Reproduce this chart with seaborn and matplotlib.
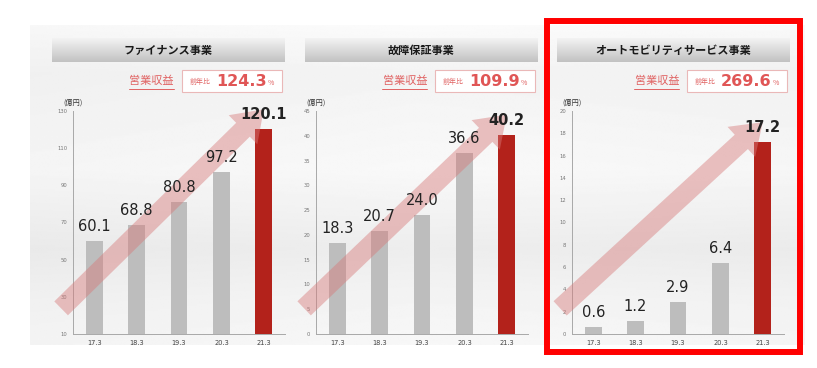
import numpy as np
import seaborn as sns
import matplotlib.pyplot as plt
from matplotlib import patches
from matplotlib.lines import Line2D

# data
fiscal_years = ["17.3", "18.3", "19.3", "20.3", "21.3"]
finance_revenue = [60.1, 68.8, 80.8, 97.2, 120.1]
warranty_revenue = [18.3, 20.7, 24.0, 36.6, 40.2]
automobility_revenue = [0.6, 1.2, 2.9, 6.4, 17.2]
segment_titles = ["ファイナンス事業", "故障保証事業", "オートモビリティサービス事業"]
yoy_growth = ["124.3", "109.9", "269.6"]
finance_ticks = [10, 30, 50, 70, 90, 110, 130]
warranty_ticks = [0, 5, 10, 15, 20, 25, 30, 35, 40, 45]
automobility_ticks = [0, 2, 4, 6, 8, 10, 12, 14, 16, 18, 20]

sns.set_style("white")
plt.rcParams["font.family"] = ["Noto Sans CJK JP", "DejaVu Sans"]

W, H = 817, 368
GRAY = "#bdbdbd"
DARK_RED = "#b3221b"
PINK_TEXT = "#e06262"


def px_box(left, top, width, height):
    # pixel box (from top-left) -> figure fraction
    return [left / W, 1 - (top + height) / H, width / W, height / H]


fig = plt.figure(figsize=(W / 100, H / 100), dpi=100)

# soft photo-like background
bg = fig.add_axes(px_box(30, 25, 775, 320), zorder=0)
rows = np.interp(np.linspace(0, 1, 200), [0, 0.15, 0.45, 0.7, 0.85, 1],
                 [0.985, 0.955, 0.975, 0.93, 0.955, 0.97])
cols = np.interp(np.linspace(0, 1, 300), [0, 0.5, 1], [0.985, 1.0, 0.99])
bg.imshow(np.outer(rows, cols), cmap="gray", vmin=0, vmax=1, aspect="auto")
bg.axis("off")

panels = [
    (finance_revenue, finance_ticks, 73, 52),
    (warranty_revenue, warranty_ticks, 316, 305),
    (automobility_revenue, automobility_ticks, 572, 557),
]

for i, (values, ticks, ax_left, head_left) in enumerate(panels):
    ax = fig.add_axes(px_box(ax_left, 111, 212, 223), zorder=2)
    ax.patch.set_alpha(0)
    colors = [GRAY] * (len(values) - 1) + [DARK_RED]
    sns.barplot(x=fiscal_years, y=values, hue=fiscal_years, palette=colors,
                width=0.4, saturation=1, legend=False, linewidth=0, ax=ax, zorder=2)
    ax.set_xlim(-0.5, 4.5)
    ax.set_ylim(ticks[0], ticks[-1])
    ax.set_yticks(ticks)
    ax.set_xlabel("")
    ax.set_ylabel("")
    ax.set_xticks([0.5, 1.5, 2.5, 3.5], minor=True)
    ax.tick_params(axis="x", which="major", length=0, pad=4, labelsize=4.8,
                   labelcolor="#444444")
    ax.tick_params(axis="x", which="minor", length=2, color="#999999", width=0.6)
    ax.tick_params(axis="y", length=2, color="#999999", width=0.6, pad=2,
                   labelsize=3.8, labelcolor="#777777")
    for lbl in ax.get_xticklabels() + ax.get_yticklabels():
        lbl.set_family("DejaVu Sans")
    for side in ["top", "right"]:
        ax.spines[side].set_visible(False)
    for side in ["left", "bottom"]:
        ax.spines[side].set_color("#a8a8a8")
        ax.spines[side].set_linewidth(0.7)

    ax.annotate("(億円)", (0, 1), xycoords="axes fraction", xytext=(0, 3),
                textcoords="offset points", ha="center", va="bottom",
                fontsize=5.2, color="#333333", annotation_clip=False)

    # big translucent growth arrow
    span = ticks[-1] - ticks[0]
    ax.annotate("", xy=(4.0, values[-1] + 0.09 * span),
                xytext=(-0.78, ticks[0] + 0.115 * span),
                arrowprops=dict(arrowstyle="simple,head_length=1.5,head_width=2.1,tail_width=1.0",
                                mutation_scale=14, color="#d77a7a", alpha=0.45,
                                lw=0, shrinkA=0, shrinkB=0),
                annotation_clip=False, zorder=3)

    for j, v in enumerate(values):
        last = j == len(values) - 1
        ax.annotate(f"{v:.1f}", (j, v), xytext=(0, 5), textcoords="offset points",
                    ha="center", va="bottom", fontsize=10.5, family="DejaVu Sans",
                    fontweight="bold" if last else "normal", color="#222222",
                    annotation_clip=False, zorder=4)

    # header bar with gradient
    hax = fig.add_axes(px_box(head_left, 38, 233, 24), zorder=2)
    grad = np.linspace(0.95, 0.76, 50)[:, None] * np.ones((1, 10))
    hax.imshow(grad, cmap="gray", vmin=0, vmax=1, aspect="auto")
    hax.axis("off")
    hax.text(0.5, 0.48, segment_titles[i], transform=hax.transAxes, ha="center",
             va="center", fontsize=8, fontweight="bold", color="#1a1a1a")

    # revenue label + yoy box
    box_left = head_left + 233 - 103
    fig.text((box_left - 8) / W, 1 - 81 / H, "営業収益", ha="right", va="center",
             fontsize=8, color=PINK_TEXT)
    fig.add_artist(Line2D([(box_left - 53) / W, (box_left - 8) / W],
                          [1 - 89 / H, 1 - 89 / H], color=PINK_TEXT, lw=0.7,
                          transform=fig.transFigure))
    fig.add_artist(patches.Rectangle((box_left / W, 1 - 92 / H), 100 / W, 22 / H,
                                     transform=fig.transFigure, fc="white",
                                     ec="#eab8b8", lw=0.8, zorder=1))
    fig.text((box_left + 8) / W, 1 - 82 / H, "前年比", ha="left", va="center",
             fontsize=5, color=PINK_TEXT, zorder=2)
    num = fig.text((box_left + 34) / W, 1 - 81.5 / H, yoy_growth[i], ha="left",
                   va="center", fontsize=11.5, fontweight="bold",
                   family="DejaVu Sans", color="#e05656", zorder=2)
    plt.annotate("%", (1, 0.12), xycoords=num, xytext=(1, 0),
                 textcoords="offset points", ha="left", va="bottom",
                 fontsize=5, color=PINK_TEXT)

# red highlight frame round the third segment
fig.add_artist(patches.Rectangle((547 / W, 1 - 352 / H), 253 / W, 331 / H,
                                 transform=fig.transFigure, fill=False,
                                 ec="#ff0000", lw=4.3, zorder=5))

plt.savefig("out.png", dpi=100)
